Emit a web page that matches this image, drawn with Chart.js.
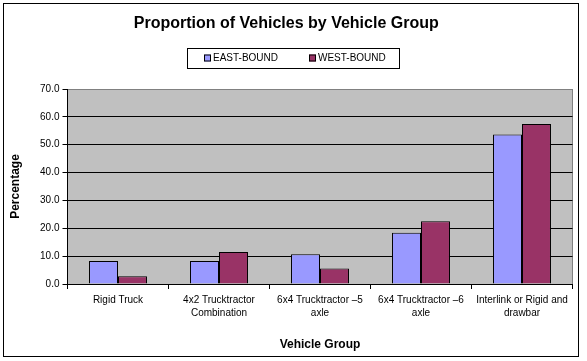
<!DOCTYPE html>
<html lang="en">
<head>
    <meta charset="UTF-8">
    <title>Proportion of Vehicles by Vehicle Group</title>
    <script src="https://cdn.jsdelivr.net/npm/chart.js@4"></script>
    <style>
        body {
            margin: 0;
            padding: 0;
            background: white;
        }

        #wrap {
            width: 587px;
            height: 361px;
        }
    </style>
</head>
<body>
    <div id="wrap">
        <canvas id="vehicleChart" width="587" height="361"></canvas>
    </div>

    <script>
        const categories = [
            ['Rigid Truck'],
            ['4x2 Trucktractor', 'Combination'],
            ['6x4 Trucktractor \u20135', 'axle'],
            ['6x4 Trucktractor \u20136', 'axle'],
            ['Interlink or Rigid and', 'drawbar']
        ];
        const eastBound = [8.3, 8.3, 10.7, 18.4, 53.7];
        const westBound = [2.8, 11.5, 5.6, 22.5, 57.4];
        const seriesNames = ['EAST-BOUND', 'WEST-BOUND'];

        const FONT = '"Liberation Sans", Arial, sans-serif';

        // grey plot area, outer frame and the boxed legend (Excel look)
        const frame = {
            id: 'frame',
            beforeDraw(chart) {
                const c = chart.ctx;
                const a = chart.chartArea;
                c.save();
                c.fillStyle = '#ffffff';
                c.fillRect(0, 0, chart.width, chart.height);
                c.fillStyle = '#c0c0c0';
                c.fillRect(a.left, a.top, a.right - a.left, a.bottom - a.top);
                c.strokeStyle = '#808080';
                c.lineWidth = 1;
                c.beginPath();
                c.moveTo(Math.round(a.right) - 0.5, a.top);
                c.lineTo(Math.round(a.right) - 0.5, a.bottom);
                c.stroke();
                c.restore();
            },
            afterDraw(chart) {
                const c = chart.ctx;
                c.save();
                c.strokeStyle = '#000';
                c.lineWidth = 1;
                c.strokeRect(3.5, 3.5, 575, 353);

                // legend
                c.font = '10px ' + FONT;
                c.textBaseline = 'middle';
                const sq = 7, gapText = 2, gapItem = 31;
                const widths = chart.data.datasets.map(d => sq + gapText + c.measureText(d.label).width);
                const content = widths[0] + gapItem + widths[1];
                const boxW = content + 30;
                const cx = 292.5;
                const boxL = Math.round(cx - boxW / 2) + 0.5;
                c.strokeRect(boxL, 48.5, Math.round(boxW), 20);
                let x = Math.round(boxL + 16.5);
                const y = 58;
                chart.data.datasets.forEach((d, i) => {
                    c.fillStyle = d.backgroundColor;
                    c.fillRect(x, y - 3.5, sq, sq);
                    c.strokeStyle = '#000';
                    c.strokeRect(x + 0.5, y - 3, sq - 1, sq - 1);
                    c.fillStyle = '#000';
                    c.fillText(d.label, x + sq + gapText, y);
                    x += widths[i] + gapItem;
                });
                c.restore();
            }
        };

        const ctx = document.getElementById('vehicleChart').getContext('2d');
        new Chart(ctx, {
            type: 'bar',
            data: {
                labels: categories,
                datasets: [
                    {
                        label: seriesNames[0],
                        data: eastBound,
                        backgroundColor: '#9999ff',
                        borderColor: '#000',
                        borderWidth: 1
                    },
                    {
                        label: seriesNames[1],
                        data: westBound,
                        backgroundColor: '#993366',
                        borderColor: '#000',
                        borderWidth: 1
                    }
                ]
            },
            options: {
                responsive: false,
                animation: false,
                layout: {
                    padding: { left: 0, right: 14.5, top: 0, bottom: 0 }
                },
                datasets: {
                    bar: {
                        categoryPercentage: 0.574,
                        barPercentage: 1
                    }
                },
                plugins: {
                    legend: { display: false },
                    tooltip: { enabled: false },
                    title: {
                        display: true,
                        text: 'Proportion of Vehicles by Vehicle Group',
                        color: '#000',
                        font: { family: FONT, size: 16, weight: 'bold' },
                        padding: { top: 14.4, bottom: 55.4 }
                    }
                },
                scales: {
                    x: {
                        afterFit: (scale) => { scale.height = 77; },
                        grid: {
                            offset: true,
                            drawOnChartArea: false,
                            color: '#000',
                            tickLength: 5
                        },
                        border: { color: '#000' },
                        ticks: {
                            color: '#000',
                            padding: 4.5,
                            maxRotation: 0,
                            autoSkip: false,
                            font: { family: FONT, size: 10, lineHeight: 1.3 }
                        },
                        title: {
                            display: true,
                            text: 'Vehicle Group',
                            color: '#000',
                            font: { family: FONT, size: 12, weight: 'bold' },
                            padding: { top: 0, bottom: 8.8 }
                        }
                    },
                    y: {
                        min: 0,
                        max: 70,
                        afterFit: (scale) => { scale.width = 67.5; },
                        grid: {
                            color: (c) => c.tick && c.tick.value === 70 ? '#808080' : '#000',
                            tickColor: '#000',
                            tickLength: 5
                        },
                        border: { color: '#000' },
                        ticks: {
                            stepSize: 10,
                            color: '#000',
                            padding: 3,
                            font: { family: FONT, size: 10 },
                            callback: (v) => Number(v).toFixed(1)
                        },
                        title: {
                            display: true,
                            text: 'Percentage',
                            color: '#000',
                            font: { family: FONT, size: 12, weight: 'bold' },
                            padding: { top: 8.3, bottom: 0 }
                        }
                    }
                }
            },
            plugins: [frame]
        });
    </script>
</body>
</html>
